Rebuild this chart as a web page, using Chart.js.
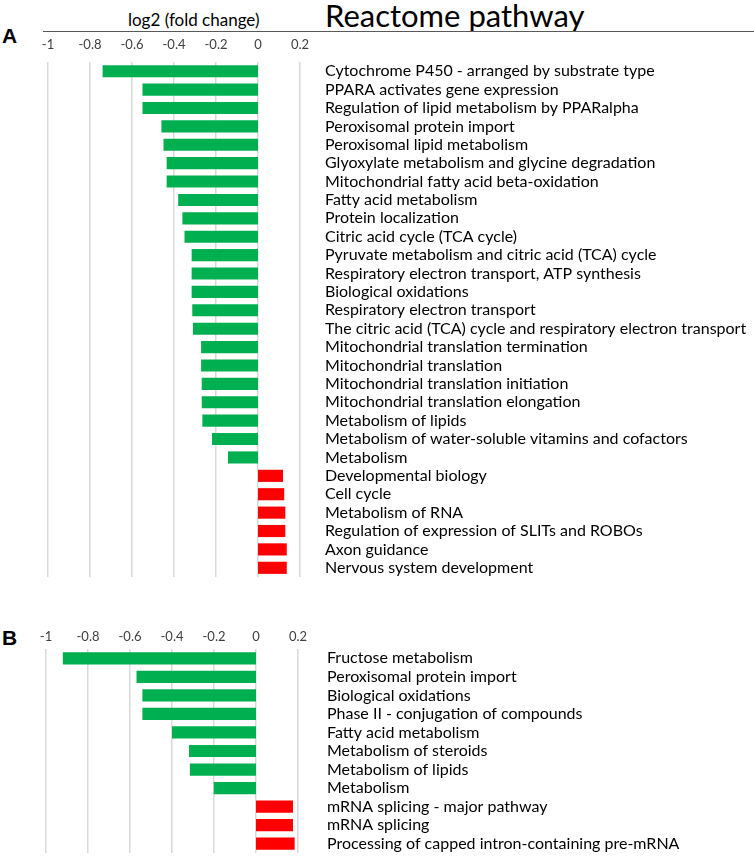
<!DOCTYPE html>
<html>
<head>
<meta charset="utf-8">
<script src="https://cdn.jsdelivr.net/npm/chart.js@4.4.1/dist/chart.umd.min.js"></script>
<style>
  body { margin: 0; background: #fff; }
  #wrap { position: relative; width: 754px; height: 858px; overflow: hidden; font-family: Lato, sans-serif; color: #000; }
  .abs { position: absolute; white-space: nowrap; }
  .panel { font: bold 21px "Liberation Sans", Arial, sans-serif; }
</style>
</head>
<body>
<div id="wrap">
  <div class="abs panel" style="left:2px;top:24px;">A</div>
  <div class="abs" style="left:128px;top:9px;font-size:17px;">log2 (fold change)</div>
  <div class="abs" style="left:325px;top:-4px;font-size:31px;">Reactome pathway</div>
  <div class="abs" style="left:43px;top:31px;width:711px;height:1px;background:#595959;"></div>
  <canvas id="chartA" class="abs" style="left:0;top:36px;" width="754" height="541"></canvas>

  <div class="abs panel" style="left:2px;top:626px;">B</div>
  <canvas id="chartB" class="abs" style="left:0;top:623px;" width="754" height="230"></canvas>
</div>
<script>
// panel A - Reactome pathways
var pathwaysA = [
  "Cytochrome P450 - arranged by substrate type",
  "PPARA activates gene expression",
  "Regulation of lipid metabolism by PPARalpha",
  "Peroxisomal protein import",
  "Peroxisomal lipid metabolism",
  "Glyoxylate metabolism and glycine degradation",
  "Mitochondrial fatty acid beta-oxidation",
  "Fatty acid metabolism",
  "Protein localization",
  "Citric acid cycle (TCA cycle)",
  "Pyruvate metabolism and citric acid (TCA) cycle",
  "Respiratory electron transport, ATP synthesis",
  "Biological oxidations",
  "Respiratory electron transport",
  "The citric acid (TCA) cycle and respiratory electron transport",
  "Mitochondrial translation termination",
  "Mitochondrial translation",
  "Mitochondrial translation initiation",
  "Mitochondrial translation elongation",
  "Metabolism of lipids",
  "Metabolism of water-soluble vitamins and cofactors",
  "Metabolism",
  "Developmental biology",
  "Cell cycle",
  "Metabolism of RNA",
  "Regulation of expression of SLITs and ROBOs",
  "Axon guidance",
  "Nervous system development"
];
var log2fcA = [
  -0.74, -0.55, -0.55, -0.46, -0.45, -0.435, -0.435, -0.38, -0.36, -0.35,
  -0.316, -0.316, -0.316, -0.313, -0.31, -0.271, -0.271, -0.268, -0.268, -0.265,
  -0.219, -0.143, 0.119, 0.125, 0.13, 0.13, 0.137, 0.137
];

// panel B
var pathwaysB = [
  "Fructose metabolism",
  "Peroxisomal protein import",
  "Biological oxidations",
  "Phase II - conjugation of compounds",
  "Fatty acid metabolism",
  "Metabolism of steroids",
  "Metabolism of lipids",
  "Metabolism",
  "mRNA splicing - major pathway",
  "mRNA splicing",
  "Processing of capped intron-containing pre-mRNA"
];
var log2fcB = [-0.92, -0.569, -0.541, -0.541, -0.40, -0.319, -0.315, -0.201, 0.176, 0.176, 0.184];

var axisMin = -1, axisMax = 0.2, axisStep = 0.2;
var downColor = "#00b050", upColor = "#ff0000";

function makeChart(id, labels, values, plotLeft, plotRight, labelGap, tickGap) {
  return new Chart(document.getElementById(id), {
    type: "bar",
    data: {
      labels: labels,
      datasets: [{
        data: values,
        backgroundColor: values.map(function (v) { return v < 0 ? downColor : upColor; }),
        barPercentage: 0.66,
        categoryPercentage: 1
      }]
    },
    options: {
      indexAxis: "y",
      responsive: false,
      animation: false,
      layout: { padding: { left: plotLeft, right: 0, top: 0, bottom: 0 } },
      plugins: { legend: { display: false }, tooltip: { enabled: false } },
      scales: {
        x: {
          position: "top",
          min: axisMin,
          max: axisMax,
          ticks: {
            stepSize: axisStep, color: "#404040", font: { family: "Lato", size: 13 }, padding: tickGap, maxRotation: 0,
            callback: function (v) { return String(Math.round(v * 10) / 10); }
          },
          grid: { color: "#d9d9d9", lineWidth: 1.5, drawTicks: false },
          border: { display: false },
          afterFit: function (s) { s.height = 26; }
        },
        y: {
          position: "right",
          ticks: { color: "#000", font: { family: "Lato", size: 16 }, padding: labelGap, autoSkip: false },
          grid: { display: false, drawTicks: false },
          border: { display: false },
          // fixed label column; drop the half-label padding chart.js adds above/below
          afterFit: function (s) {
            s.width = 754 - plotRight;
            s.paddingTop = 0;
            s.paddingBottom = 0;
          }
        }
      }
    }
  });
}

makeChart("chartA", pathwaysA, log2fcA, 48, 300, 25, 9);
makeChart("chartB", pathwaysB, log2fcB, 46, 298, 29, 4);
</script>
</body>
</html>
